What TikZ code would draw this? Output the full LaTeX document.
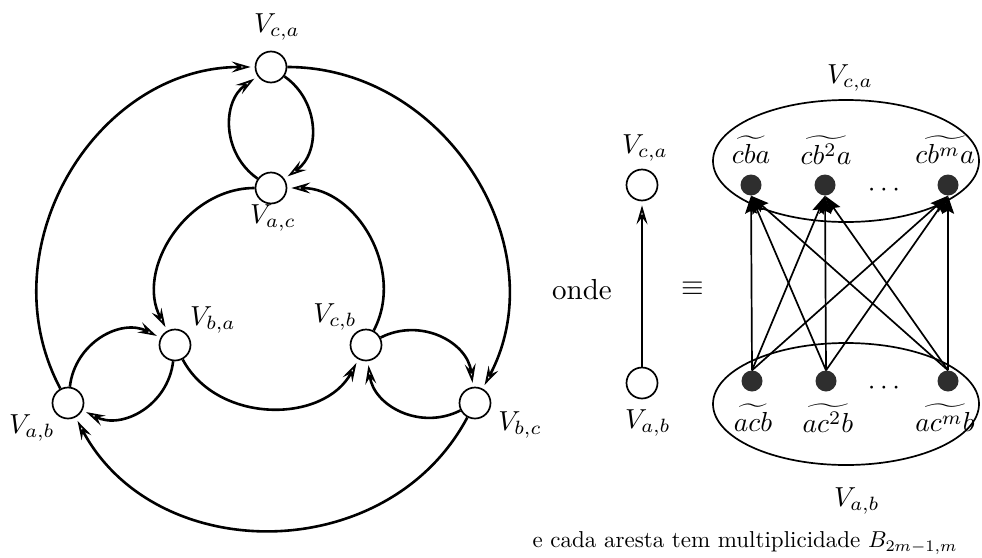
\documentclass[tikz,border=0pt]{standalone}
\usetikzlibrary{arrows.meta,shapes.geometric}
\newcommand{\mybig}[1]{\scalebox{2.75}{#1}}
\newcommand{\mycap}[1]{\scalebox{2.3}{#1}}
\begin{document}
\begin{tikzpicture}[x=1pt,y=-1pt,
  vert/.style={circle,draw,line width=1.7pt,minimum size=31pt,inner sep=0pt},
  dot/.style={circle,fill=black!82,minimum size=21pt,inner sep=0pt},
  lab/.style={inner sep=0pt},
  edge/.style={line width=2.6pt,shorten >=4pt,-{Stealth[open,length=19pt,width=11pt,inset=7pt,line width=1.8pt]}},
  fedge/.style={line width=1.7pt,-{Stealth[length=18pt,width=12pt,inset=3pt]}},
  setbox/.style={ellipse,draw,line width=1.7pt,minimum width=266pt,minimum height=122pt,inner sep=0pt}]
\useasboundingbox (0,0) rectangle (982,557);
% left graph nodes
\node[vert] (vca) at (271,67) {};
\node[vert] (vac) at (271,188) {};
\node[vert] (vba) at (175,345) {};
\node[vert] (vcb) at (366,345) {};
\node[vert] (vab) at (68,403) {};
\node[vert] (vbc) at (475,403) {};
\node[lab] (lca) at (277,27) {\mybig{$V_{c,a}$}};
\node[lab] (lac) at (273,218) {\mybig{$V_{a,c}$}};
\node[lab] (lba) at (213,320) {\mybig{$V_{b,a}$}};
\node[lab] (lcb) at (335,317) {\mybig{$V_{c,b}$}};
\node[lab] (lab1) at (32,428) {\mybig{$V_{a,b}$}};
\node[lab] (lbc) at (520,425) {\mybig{$V_{b,c}$}};
% outer circle
\draw[edge] (vab) to[out=118,in=180,looseness=1.08] (vca);
\draw[edge] (vca) to[out=0,in=62,looseness=1.08] (vbc);
\draw[edge] (vbc) to[out=242,in=298,looseness=1.11] (vab);
% inner circle
\draw[edge] (vba) to[out=298,in=242,looseness=1.07] (vcb);
\draw[edge] (vcb) to[out=62,in=0,looseness=1.05] (vac);
\draw[edge] (vac) to[out=180,in=118,looseness=1.05] (vba);
% lenses
\draw[edge] (vac) to[bend left=55,looseness=1.1] (vca);
\draw[edge] (vca) to[bend left=55,looseness=1.1] (vac);
\draw[edge] (vab) to[bend left=55,looseness=1.1] (vba);
\draw[edge] (vba) to[bend left=55,looseness=1.1] (vab);
\draw[edge] (vcb) to[bend left=55,looseness=1.1] (vbc);
\draw[edge] (vbc) to[bend left=55,looseness=1.1] (vcb);
% middle
\node[lab] (onde) at (582,290) {\scalebox{2.9}{onde}};
\node[vert] (vca2) at (642,185) {};
\node[vert] (vab2) at (642,383) {};
\node[lab] (lca2) at (645,148) {\mybig{$V_{c,a}$}};
\node[lab] (lab2) at (648,423) {\mybig{$V_{a,b}$}};
\draw[edge] (vab2) -- (vca2);
\node[lab] (eq) at (693,289) {\scalebox{2.9}{$\equiv$}};
% right sets
\node[setbox] (top) at (846,161) {};
\node[setbox] (bot) at (846,404) {};
\node[lab] (ltop) at (850,78) {\mybig{$V_{c,a}$}};
\node[lab] (lbot) at (857,501) {\mybig{$V_{a,b}$}};
\node[dot] (t1) at (751,185) {};
\node[dot] (t2) at (825,185) {};
\node[dot] (t3) at (948,185) {};
\node[dot] (b1) at (752,381) {};
\node[dot] (b2) at (826,381) {};
\node[dot] (b3) at (948,381) {};
\node[lab] (dtop) at (884,190) {\mybig{$\cdots$}};
\node[lab] (dbot) at (884,388) {\mybig{$\cdots$}};
\node[lab] (lt1) at (751,150) {\mybig{$\widetilde{cba}$}};
\node[lab] (lt2) at (826,150) {\mybig{$\widetilde{cb^2a}$}};
\node[lab] (lt3) at (945,150) {\mybig{$\widetilde{cb^ma}$}};
\node[lab] (lb1) at (753,418) {\mybig{$\widetilde{acb}$}};
\node[lab] (lb2) at (828,418) {\mybig{$\widetilde{ac^2b}$}};
\node[lab] (lb3) at (945,418) {\mybig{$\widetilde{ac^mb}$}};
\foreach \b in {b1,b2,b3}{
  \foreach \t in {t1,t2,t3}{
    \draw[fedge] (\b.north) -- (\t.south);
  }
}
\node[lab] (cap) at (745,543) {\mycap{e cada aresta tem multiplicidade $B_{2m-1,m}$}};
\end{tikzpicture}
\end{document}
